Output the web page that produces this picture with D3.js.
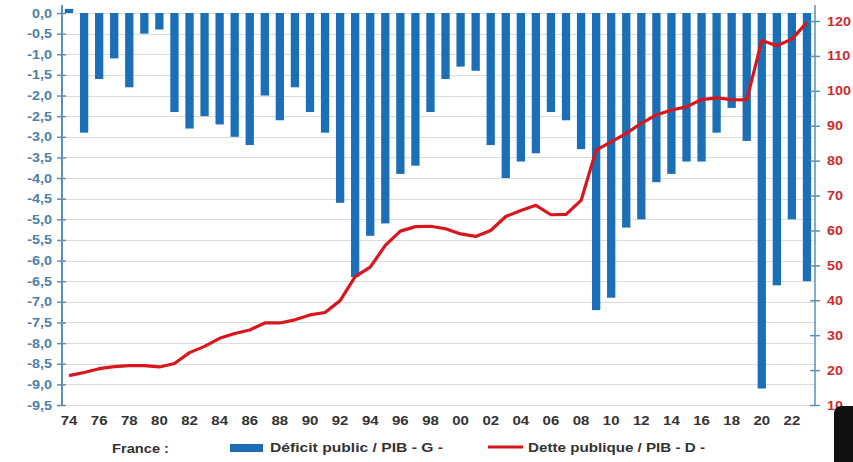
<!DOCTYPE html>
<html>
<head>
<meta charset="utf-8">
<script src="https://cdn.jsdelivr.net/npm/d3@7"></script>
<style>
  body { margin: 0; background: #fff; }
  svg { display: block; font-family: "Liberation Sans", Arial, sans-serif; }
</style>
</head>
<body>
<svg id="chart" width="853" height="462"></svg>
<script>
// years 1974..2023
const years = d3.range(1974, 2024);

// Déficit public / PIB (%) - left axis
const deficit = [
  0.1, -2.9, -1.6, -1.1, -1.8, -0.5, -0.4, -2.4, -2.8, -2.5,
  -2.7, -3.0, -3.2, -2.0, -2.6, -1.8, -2.4, -2.9, -4.6, -6.4,
  -5.4, -5.1, -3.9, -3.7, -2.4, -1.6, -1.3, -1.4, -3.2, -4.0,
  -3.6, -3.4, -2.4, -2.6, -3.3, -7.2, -6.9, -5.2, -5.0, -4.1,
  -3.9, -3.6, -3.6, -2.9, -2.3, -3.1, -9.1, -6.6, -5.0, -6.5
];

// Dette publique / PIB (%) - right axis
const dette = [
  18.4, 19.3, 20.4, 21.0, 21.3, 21.3, 20.9, 21.9, 25.0, 26.8,
  29.1, 30.5, 31.5, 33.5, 33.5, 34.4, 35.8, 36.5, 39.9, 46.8,
  49.5, 55.7, 59.8, 61.1, 61.2, 60.5, 59.0, 58.3, 60.0, 64.0,
  65.7, 67.2, 64.5, 64.6, 68.6, 83.0, 85.4, 87.8, 90.7, 93.1,
  94.5, 95.4, 97.5, 98.0, 97.5, 97.4, 114.4, 112.9, 114.8, 119.6
];

const leftTicks = d3.range(0, -9.51, -0.5);
const rightTicks = d3.range(10, 121, 10);
const xLabelYears = d3.range(1974, 2023, 2);

const svg = d3.select('#chart');
const pLeft = 62, pRight = 815, pTop = 13, pBottom = 405;
const stretch = 1.15; // the source picture is a bit wider than tall

const x = d3.scalePoint().domain(years).range([pLeft - 0.5, pRight - 0.5]).padding(0.5);
const yL = d3.scaleLinear().domain([0, -9.5]).range([pTop, pBottom]);
const yR = d3.scaleLinear().domain([10, 120]).range([pBottom, 21]);

const fmt = d => d3.format('.1f')(d).replace('.', ',').replace('−', '-');

// grid
svg.append('g').selectAll('line').data(leftTicks).join('line')
  .attr('x1', pLeft).attr('x2', pRight)
  .attr('y1', d => Math.round(yL(d)) + 0.5).attr('y2', d => Math.round(yL(d)) + 0.5)
  .attr('stroke', '#dcdcdc').attr('stroke-width', 1.2);

// bars
const barW = 8.3;
svg.append('g').selectAll('rect').data(years).join('rect')
  .attr('x', (d) => x(d) - barW / 2)
  .attr('y', (d, i) => Math.min(yL(0), yL(deficit[i])))
  .attr('width', barW)
  .attr('height', (d, i) => Math.abs(yL(deficit[i]) - yL(0)))
  .attr('fill', '#1b6fb6');

// debt line
const line = d3.line().x((d, i) => x(years[i])).y(d => yR(d));
svg.append('path').datum(dette)
  .attr('d', line)
  .attr('fill', 'none')
  .attr('stroke', '#d9161c')
  .attr('stroke-width', 3.2)
  .attr('stroke-linejoin', 'round');

// left axis
const axL = svg.append('g').attr('transform', `translate(${pLeft},0)`)
  .call(d3.axisLeft(yL).tickValues(leftTicks).tickFormat(fmt).tickSize(5).tickSizeOuter(0));
axL.select('.domain').attr('stroke', '#5c8fba').attr('stroke-width', 2).attr('d', `M0,${pTop - 8}V${pBottom + 1}`);
axL.selectAll('.tick line').attr('stroke', '#5c8fba').attr('x2', 4).attr('x1', -5).attr('stroke-width', 1.5);
axL.selectAll('.tick text').attr('x', -10 / stretch).attr('transform', `scale(${stretch},1)`)
  .attr('fill', '#4f7fa8').attr('font-size', 12.5).attr('font-weight', 'bold');

// right axis
const axR = svg.append('g').attr('transform', `translate(${pRight},0)`)
  .call(d3.axisRight(yR).tickValues(rightTicks).tickSize(5).tickSizeOuter(0));
axR.select('.domain').attr('stroke', '#5c8fba').attr('stroke-width', 1.5).attr('d', `M0,5V${pBottom + 1}`);
axR.selectAll('.tick line').attr('stroke', '#5c8fba').attr('x1', -5).attr('x2', 5).attr('stroke-width', 1.5);
axR.selectAll('.tick text').attr('x', 12 / stretch).attr('transform', `scale(${stretch},1)`)
  .attr('fill', '#cf2b2f').attr('font-size', 12.5).attr('font-weight', 'bold');

// x labels
svg.append('g').selectAll('text').data(xLabelYears).join('text')
  .attr('transform', d => `translate(${x(d)},425) scale(1.2,1)`)
  .attr('text-anchor', 'middle')
  .attr('font-size', 12.5).attr('font-weight', 'bold').attr('fill', '#333')
  .text(d => String(d).slice(2));

// legend
const lg = svg.append('g').attr('font-size', 13).attr('font-weight', 'bold').attr('fill', '#333')
  .attr('lengthAdjust', 'spacingAndGlyphs');
lg.append('text').attr('x', 112).attr('y', 453).attr('textLength', 57)
  .attr('lengthAdjust', 'spacingAndGlyphs').text('France :');
lg.append('rect').attr('x', 230).attr('y', 444).attr('width', 33).attr('height', 8).attr('fill', '#1b6fb6');
lg.append('text').attr('x', 270).attr('y', 452).attr('textLength', 173)
  .attr('lengthAdjust', 'spacingAndGlyphs').text('Déficit public / PIB - G -');
lg.append('line').attr('x1', 488).attr('x2', 523).attr('y1', 447).attr('y2', 447)
  .attr('stroke', '#d9161c').attr('stroke-width', 3);
lg.append('text').attr('x', 528).attr('y', 452).attr('textLength', 177)
  .attr('lengthAdjust', 'spacingAndGlyphs').text('Dette publique / PIB - D -');

// dark corner artefact in the photo
svg.append('rect').attr('x', 834).attr('y', 406).attr('width', 30).attr('height', 70).attr('rx', 7).attr('fill', '#111');
</script>
</body>
</html>
